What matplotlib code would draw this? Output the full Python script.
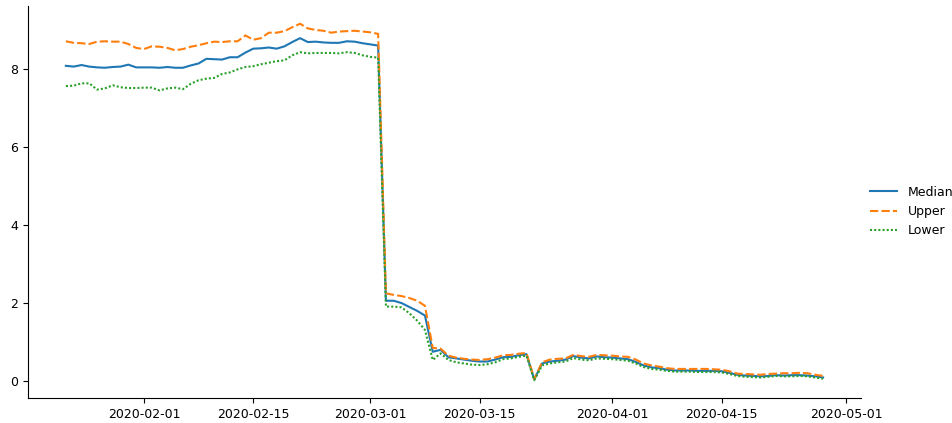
import matplotlib
matplotlib.use('Agg')
import matplotlib.pyplot as plt
import seaborn as sns
import pandas as pd

dates = pd.date_range("2020-01-22", "2020-04-28", freq="D")

median = [8.09, 8.07, 8.11, 8.07, 8.05, 8.04, 8.06, 8.07, 8.12, 8.05,
          8.05, 8.05, 8.04, 8.06, 8.04, 8.04, 8.10, 8.15, 8.27, 8.26,
          8.25, 8.31, 8.31, 8.43, 8.53, 8.54, 8.56, 8.53, 8.59, 8.70,
          8.80, 8.70, 8.71, 8.69, 8.68, 8.68, 8.72, 8.71, 8.67, 8.64,
          8.61, 2.06, 2.06, 2.00, 1.90, 1.80, 1.68, 0.75, 0.80, 0.61,
          0.58, 0.55, 0.52, 0.50, 0.50, 0.55, 0.61, 0.62, 0.66, 0.69,
          0.04, 0.45, 0.50, 0.52, 0.55, 0.64, 0.60, 0.58, 0.63, 0.61,
          0.60, 0.58, 0.56, 0.49, 0.40, 0.35, 0.33, 0.29, 0.27, 0.27,
          0.27, 0.26, 0.26, 0.26, 0.25, 0.21, 0.16, 0.14, 0.13, 0.12,
          0.13, 0.15, 0.14, 0.15, 0.15, 0.14, 0.12, 0.09]

upper = [8.72, 8.68, 8.67, 8.65, 8.71, 8.72, 8.71, 8.71, 8.65, 8.55,
         8.52, 8.59, 8.58, 8.55, 8.49, 8.52, 8.58, 8.62, 8.67, 8.71,
         8.70, 8.72, 8.72, 8.87, 8.76, 8.80, 8.94, 8.94, 8.98, 9.08,
         9.17, 9.05, 9.01, 8.99, 8.94, 8.97, 8.98, 8.99, 8.97, 8.95,
         8.91, 2.25, 2.21, 2.18, 2.13, 2.06, 1.93, 0.85, 0.83, 0.65,
         0.60, 0.57, 0.55, 0.54, 0.56, 0.60, 0.66, 0.67, 0.70, 0.72,
         0.05, 0.48, 0.55, 0.57, 0.58, 0.67, 0.64, 0.62, 0.67, 0.66,
         0.65, 0.63, 0.62, 0.55, 0.45, 0.40, 0.37, 0.33, 0.31, 0.31,
         0.31, 0.31, 0.31, 0.30, 0.29, 0.25, 0.19, 0.18, 0.17, 0.16,
         0.18, 0.19, 0.20, 0.20, 0.21, 0.20, 0.16, 0.13]

lower = [7.57, 7.58, 7.64, 7.64, 7.48, 7.51, 7.59, 7.54, 7.52, 7.52,
         7.53, 7.53, 7.46, 7.51, 7.53, 7.49, 7.63, 7.72, 7.76, 7.78,
         7.88, 7.92, 8.00, 8.06, 8.08, 8.13, 8.17, 8.21, 8.23, 8.36,
         8.44, 8.41, 8.42, 8.42, 8.42, 8.41, 8.44, 8.42, 8.36, 8.32,
         8.30, 1.91, 1.91, 1.89, 1.74, 1.55, 1.31, 0.54, 0.71, 0.54,
         0.48, 0.45, 0.42, 0.41, 0.43, 0.48, 0.56, 0.58, 0.62, 0.65,
         0.02, 0.40, 0.45, 0.48, 0.50, 0.59, 0.55, 0.53, 0.58, 0.57,
         0.56, 0.54, 0.52, 0.45, 0.36, 0.31, 0.29, 0.26, 0.24, 0.24,
         0.24, 0.23, 0.23, 0.23, 0.22, 0.18, 0.13, 0.11, 0.10, 0.09,
         0.11, 0.13, 0.12, 0.12, 0.13, 0.12, 0.09, 0.06]

df = pd.DataFrame({"Median": median, "Upper": upper, "Lower": lower}, index=dates)

plt.rcParams['font.size'] = 9

fig = plt.figure(figsize=(9.53, 4.23), dpi=100)
ax = fig.add_axes([0.0294, 0.059, 0.874, 0.927])
sns.lineplot(data=df, ax=ax)
sns.despine(ax=ax)
ax.set_xlabel('')
ax.set_ylabel('')

# legend sits outside the axes on the right, like relplot does
handles, labels = ax.get_legend_handles_labels()
ax.get_legend().remove()
fig.legend(handles, labels, loc='center left', bbox_to_anchor=(0.901, 0.5),
           frameon=False, handlelength=2.2)

fig.savefig('out.png', dpi=100)
